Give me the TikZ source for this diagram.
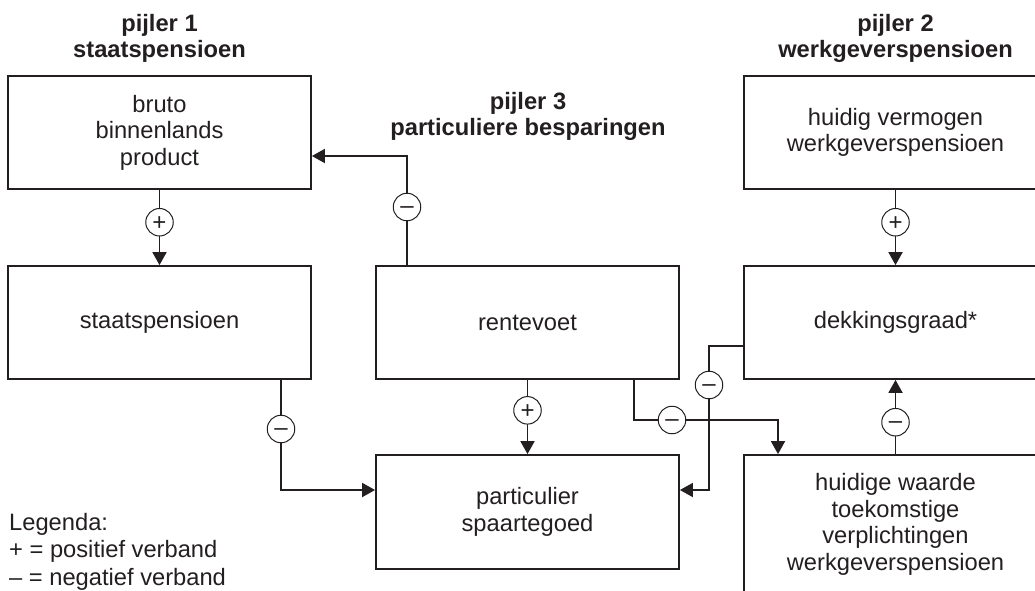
\documentclass[tikz,border=0pt]{standalone}
\usepackage{fontspec}
\setmainfont{Liberation Sans}
\usetikzlibrary{arrows.meta}
\definecolor{ink}{RGB}{35,31,32}
\newcommand{\fsbox}{\fontsize{23.7pt}{26.5pt}\selectfont}
\newcommand{\fsleg}{\fontsize{23.7pt}{27.5pt}\selectfont}
\newcommand{\fssign}{\fontsize{24pt}{24pt}\selectfont}
\begin{document}
\begin{tikzpicture}[x=1pt,y=-1pt,
  box/.style={draw=ink, line width=1.8pt, minimum width=303pt, minimum height=113pt,
    inner sep=0pt, align=center, font=\fsbox, text=ink},
  title/.style={align=center, font=\bfseries\fsbox, text=ink, inner sep=0pt},
  legend/.style={align=left, font=\fsleg, text=ink, inner sep=0pt},
  sign/.style={circle, draw=ink, line width=1pt, fill=white, minimum size=27.5pt,
    inner sep=0pt, font=\fssign, text=ink, text depth=0pt},
  plus/.style={sign, text height=17pt},
  minus/.style={sign, text height=13.3pt},
  conn/.style={draw=ink, line width=1.8pt, -{Triangle[length=13pt,width=14pt]}}]
\useasboundingbox (0,0) rectangle (1035,590);
\clip (0,0) rectangle (1035,590);

% titles
\node[title] (t1) at (159.5,38.5) {pijler 1\\staatspensioen};
\node[title] (t3) at (528,116.5) {pijler 3\\particuliere besparingen};
\node[title] (t2) at (895.5,38.5) {pijler 2\\werkgeverspensioen};

% boxes
\node[box] (bbp) at (159.5,132.5) {bruto\\binnenlands\\product};
\node[box] (sp)  at (159.5,322.5) {staatspensioen};
\node[box] (rv)  at (527.5,322.5) {rentevoet};
\node[box, minimum height=114pt] (ps) at (527.5,512) {particulier\\spaartegoed};
\node[box] (hv)  at (895.5,132.5) {huidig vermogen\\werkgeverspensioen};
\node[box] (dg)  at (895.5,322.5) {dekkingsgraad*};
\node[box, minimum height=139pt] (hw) at (895.5,524.5) {huidige waarde\\toekomstige\\verplichtingen\\werkgeverspensioen};

% bend points
\coordinate (k3) at (281,429);
\coordinate (k5) at (407,207);
\coordinate (k6) at (672,420);
\coordinate (k7) at (709,385);

% connectors
\draw[conn] (bbp) -- node[plus,pos=0.43] (s1) {+} (sp);
\draw[conn] (hv) -- node[plus,pos=0.43] (s2) {+} (dg);
\draw[conn] (rv) -- node[plus,pos=0.41] (s4) {+} (ps);
\draw[conn] (hw) -- node[minus,pos=0.43] (s8) {–} (dg);
\draw[conn] ([xshift=121.5pt]sp.south) -- (k3) node[minus] (s3) {–} |- ([yshift=22pt]ps.west);
\draw[conn] ([xshift=-120.5pt]rv.north) -- (k5) node[minus] (s5) {–} |- ([yshift=-23.5pt]bbp.east);
\draw[conn] ([xshift=106.5pt]rv.south) |- (k6) node[minus] (s6) {–} -| ([xshift=-117.5pt]hw.north);
\draw[conn] ([yshift=-23.5pt]dg.west) -| (k7) node[minus] (s7) {–} |- ([yshift=22pt]ps.east);

% legend
\node[legend, anchor=north west] (leg) at (9,513) {Legenda:\\+ = positief verband\\– = negatief verband};
\end{tikzpicture}
\end{document}
